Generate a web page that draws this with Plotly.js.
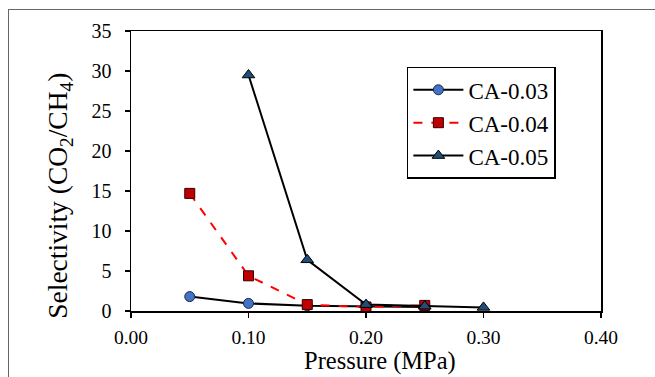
<!DOCTYPE html>
<html>
<head>
<meta charset="utf-8">
<script src="https://cdn.plot.ly/plotly-3.0.1.min.js"></script>
<style>
html,body{margin:0;padding:0;background:#fff;}
#wrap{position:relative;width:655px;height:377px;overflow:hidden;}
#frame{position:absolute;left:8px;top:9px;width:700px;height:420px;border-left:1.5px solid #666;border-top:1.5px solid #666;pointer-events:none;z-index:5;}
#chart{position:absolute;left:0;top:0;width:655px;height:377px;}
</style>
</head>
<body>
<div id="wrap"><div id="chart"></div><div id="frame"></div></div>
<script>
const pressure03 = [0.05, 0.10, 0.15, 0.20, 0.25];
const sel03 = [1.8, 0.95, 0.65, 0.6, 0.5];
const pressure04 = [0.05, 0.10, 0.15, 0.20, 0.25];
const sel04 = [14.7, 4.4, 0.8, 0.5, 0.7];
const pressure05 = [0.10, 0.15, 0.20, 0.25, 0.30];
const sel05 = [29.5, 6.4, 0.8, 0.6, 0.45];
const names = ['CA-0.03', 'CA-0.04', 'CA-0.05'];
const xTicks = [0, 0.1, 0.2, 0.3, 0.4];
const xTickText = ['0.00', '0.10', '0.20', '0.30', '0.40'];
const yTicks = [0, 5, 10, 15, 20, 25, 30, 35];

const font = 'Liberation Serif';

const traces = [
  {x: pressure03, y: sel03, name: names[0], mode: 'lines+markers', type: 'scatter',
   line: {color: '#000', width: 2},
   marker: {symbol: 'circle', size: 10, color: '#4472C4', line: {color: '#1a2a4a', width: 1}}},
  {x: pressure04, y: sel04, name: names[1], mode: 'lines+markers', type: 'scatter',
   line: {color: '#FF0000', width: 2, dash: 'dash'},
   marker: {symbol: 'square', size: 10, color: '#C00000', line: {color: '#300', width: 1}}},
  {x: pressure05, y: sel05, name: names[2], mode: 'lines+markers', type: 'scatter',
   line: {color: '#000', width: 2},
   marker: {symbol: 'triangle-up', size: 11, color: '#1F4E79', line: {color: '#000', width: 1}}}
];

const layout = {
  width: 655, height: 377,
  margin: {l: 130.5, r: 54, t: 31, b: 65.5},
  paper_bgcolor: '#fff', plot_bgcolor: '#fff',
  font: {family: font, color: '#000'},
  showlegend: true,
  legend: {x: 0.587, y: 0.872, xanchor: 'left', yanchor: 'top',
    bordercolor: '#000', borderwidth: 1.5, bgcolor: '#fff',
    font: {family: font, size: 23, color: '#000'},
    tracegroupgap: 0, itemwidth: 50},
  xaxis: {range: [0, 0.4], tickvals: xTicks, ticktext: xTickText,
    showgrid: false, zeroline: false, showline: true, linecolor: '#000', linewidth: 1.5,
    mirror: true, ticks: 'outside', ticklen: 5, tickcolor: '#000', tickwidth: 1.5,
    tickfont: {family: font, size: 19.5, color: '#000'}, ticklabelstandoff: 3},
  yaxis: {range: [0, 35], tickvals: yTicks,
    showgrid: false, zeroline: false, showline: true, linecolor: '#000', linewidth: 1.5,
    mirror: true, ticks: 'outside', ticklen: 5, tickcolor: '#000', tickwidth: 1.5,
    tickfont: {family: font, size: 20, color: '#000'}, ticklabelstandoff: 9},
  annotations: [
    {text: 'Selectivity (CO<sub>2</sub>/CH<sub>4</sub>)', xref: 'paper', yref: 'paper',
     x: -0.152, y: 0.41, textangle: -90, showarrow: false, xanchor: 'center', yanchor: 'middle',
     font: {family: font, size: 27.5, color: '#000'}},
    {text: 'Pressure (MPa)', xref: 'paper', yref: 'paper',
     x: 0.53, y: -0.18, showarrow: false, xanchor: 'center', yanchor: 'middle',
     font: {family: font, size: 24.5, color: '#000'}}
  ]
};

Plotly.newPlot('chart', traces, layout, {displayModeBar: false, staticPlot: true});
</script>
</body>
</html>
